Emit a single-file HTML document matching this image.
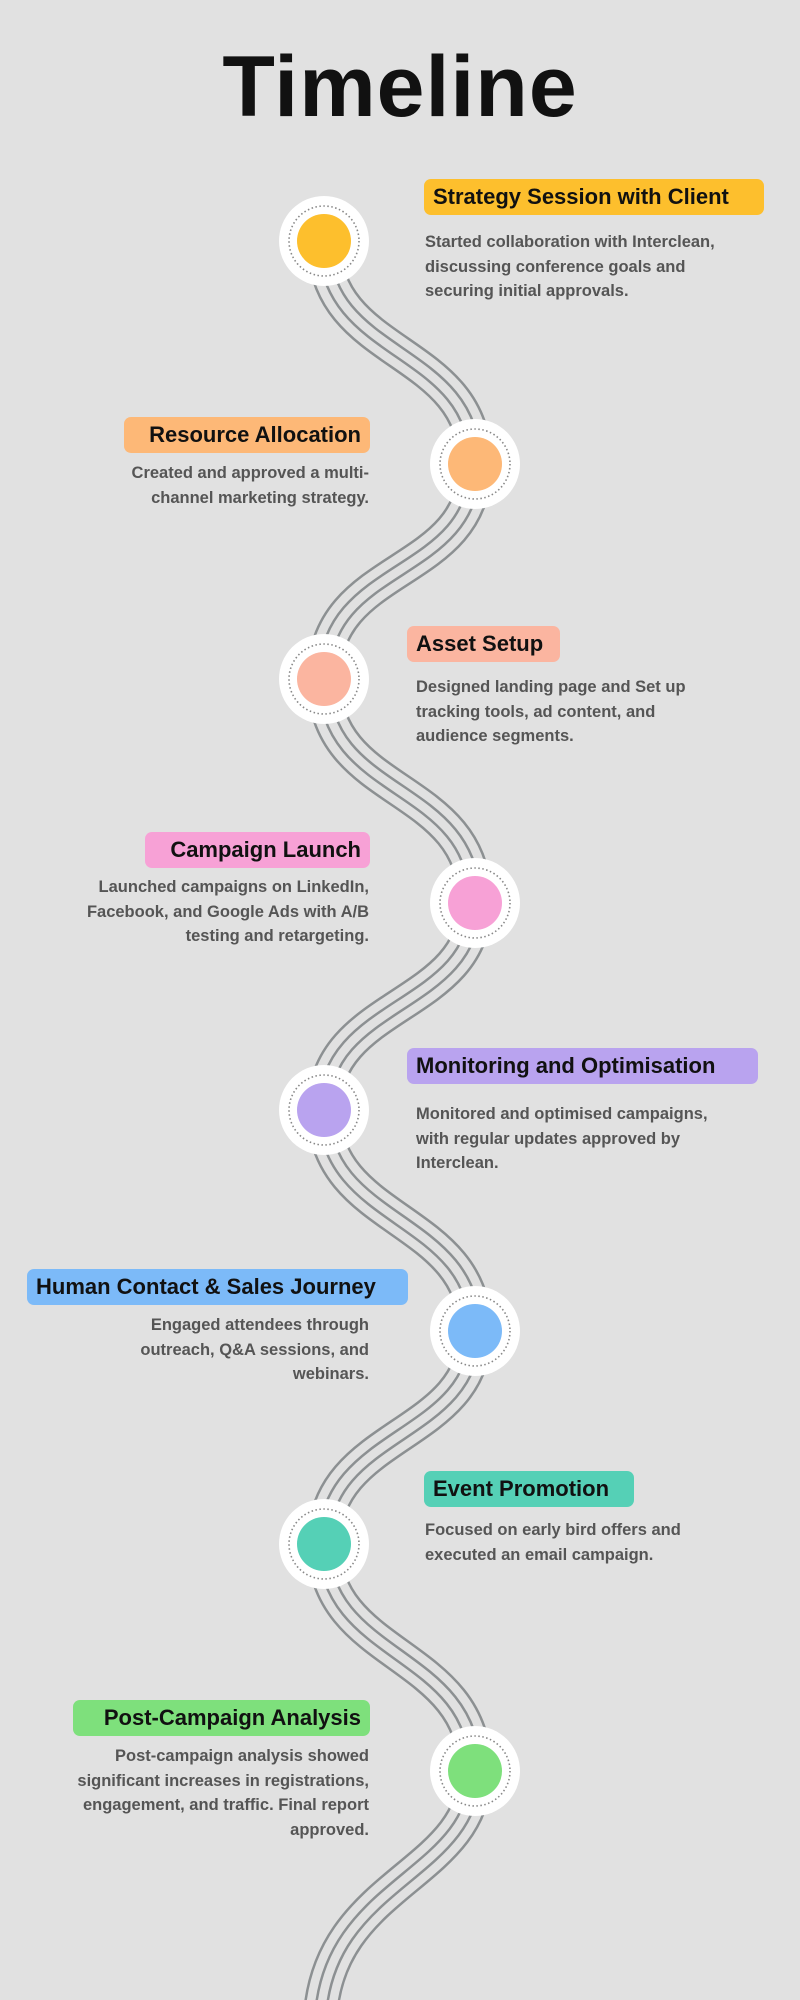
<!DOCTYPE html>
<html><head><meta charset="utf-8"><style>
html,body{margin:0;padding:0}
body{width:800px;height:2000px;background:#e1e1e1;position:relative;overflow:hidden;font-family:"Liberation Sans",sans-serif}
.t{position:absolute;left:0;width:800px;top:38px;text-align:center;font-size:86px;font-weight:bold;color:#111;letter-spacing:1px}
.h{position:absolute;height:36px;line-height:36px;border-radius:7px;font-size:22px;font-weight:bold;color:#111;padding:0 9px;box-sizing:border-box;white-space:nowrap}
.b{position:absolute;font-size:16.5px;line-height:24.5px;color:#555;font-weight:bold;white-space:nowrap}
.r{text-align:right}
</style></head><body>
<svg width="800" height="2000" style="position:absolute;left:0;top:0">
<defs>
<path id="p" d="M324 241 C324 360,475 345,475 464 C475 580,324 560,324 679 C324 800,475 780,475 903 C475 1010,324 1000,324 1110 C324 1225,475 1215,475 1331 C475 1440,324 1430,324 1544 C324 1660,475 1650,475 1771 C475 1880,320 1880,320 2030"/>
</defs>
<g fill="none">
<use href="#p" stroke="#8c9092" stroke-width="35.5"/>
<use href="#p" stroke="#e1e1e1" stroke-width="30.5"/>
<use href="#p" stroke="#8c9092" stroke-width="13.5"/>
<use href="#p" stroke="#e1e1e1" stroke-width="8.5"/>
</g>
<g stroke="#888" stroke-width="1.6" stroke-dasharray="1.5 2.5">
<circle cx="324" cy="241" r="45" fill="#fff" stroke="none"/><circle cx="324" cy="241" r="35" fill="none"/><circle cx="324" cy="241" r="27" fill="#fdbf2d" stroke="none"/>
<circle cx="475" cy="464" r="45" fill="#fff" stroke="none"/><circle cx="475" cy="464" r="35" fill="none"/><circle cx="475" cy="464" r="27" fill="#fdb877" stroke="none"/>
<circle cx="324" cy="679" r="45" fill="#fff" stroke="none"/><circle cx="324" cy="679" r="35" fill="none"/><circle cx="324" cy="679" r="27" fill="#fbb5a0" stroke="none"/>
<circle cx="475" cy="903" r="45" fill="#fff" stroke="none"/><circle cx="475" cy="903" r="35" fill="none"/><circle cx="475" cy="903" r="27" fill="#f7a1d6" stroke="none"/>
<circle cx="324" cy="1110" r="45" fill="#fff" stroke="none"/><circle cx="324" cy="1110" r="35" fill="none"/><circle cx="324" cy="1110" r="27" fill="#b9a3ef" stroke="none"/>
<circle cx="475" cy="1331" r="45" fill="#fff" stroke="none"/><circle cx="475" cy="1331" r="35" fill="none"/><circle cx="475" cy="1331" r="27" fill="#7cbaf8" stroke="none"/>
<circle cx="324" cy="1544" r="45" fill="#fff" stroke="none"/><circle cx="324" cy="1544" r="35" fill="none"/><circle cx="324" cy="1544" r="27" fill="#55d0b6" stroke="none"/>
<circle cx="475" cy="1771" r="45" fill="#fff" stroke="none"/><circle cx="475" cy="1771" r="35" fill="none"/><circle cx="475" cy="1771" r="27" fill="#7ee07c" stroke="none"/>
</g>
</svg>
<div class="t">Timeline</div>

<div class="h" style="left:424px;top:179px;width:340px;background:#fdbf2d">Strategy Session with Client</div>
<div class="b" style="left:425px;top:230px">Started collaboration with Interclean,<br>discussing conference goals and<br>securing initial approvals.</div>

<div class="h r" style="left:124px;top:417px;width:246px;background:#fdb877">Resource Allocation</div>
<div class="b r" style="right:431px;top:461px">Created and approved a multi-<br>channel marketing strategy.</div>

<div class="h" style="left:407px;top:626px;width:153px;background:#fbb5a0">Asset Setup</div>
<div class="b" style="left:416px;top:675px">Designed landing page and Set up<br>tracking tools, ad content, and<br>audience segments.</div>

<div class="h r" style="left:145px;top:832px;width:225px;background:#f7a1d6">Campaign Launch</div>
<div class="b r" style="right:431px;top:875px">Launched campaigns on LinkedIn,<br>Facebook, and Google Ads with A/B<br>testing and retargeting.</div>

<div class="h" style="left:407px;top:1048px;width:351px;background:#b9a3ef">Monitoring and Optimisation</div>
<div class="b" style="left:416px;top:1102px">Monitored and optimised campaigns,<br>with regular updates approved by<br>Interclean.</div>

<div class="h" style="left:27px;top:1269px;width:381px;background:#7cbaf8">Human Contact &amp; Sales Journey</div>
<div class="b r" style="right:431px;top:1313px">Engaged attendees through<br>outreach, Q&amp;A sessions, and<br>webinars.</div>

<div class="h" style="left:424px;top:1471px;width:210px;background:#55d0b6">Event Promotion</div>
<div class="b" style="left:425px;top:1518px">Focused on early bird offers and<br>executed an email campaign.</div>

<div class="h r" style="left:73px;top:1700px;width:297px;background:#7ee07c">Post-Campaign Analysis</div>
<div class="b r" style="right:431px;top:1744px">Post-campaign analysis showed<br>significant increases in registrations,<br>engagement, and traffic. Final report<br>approved.</div>
</body></html>
